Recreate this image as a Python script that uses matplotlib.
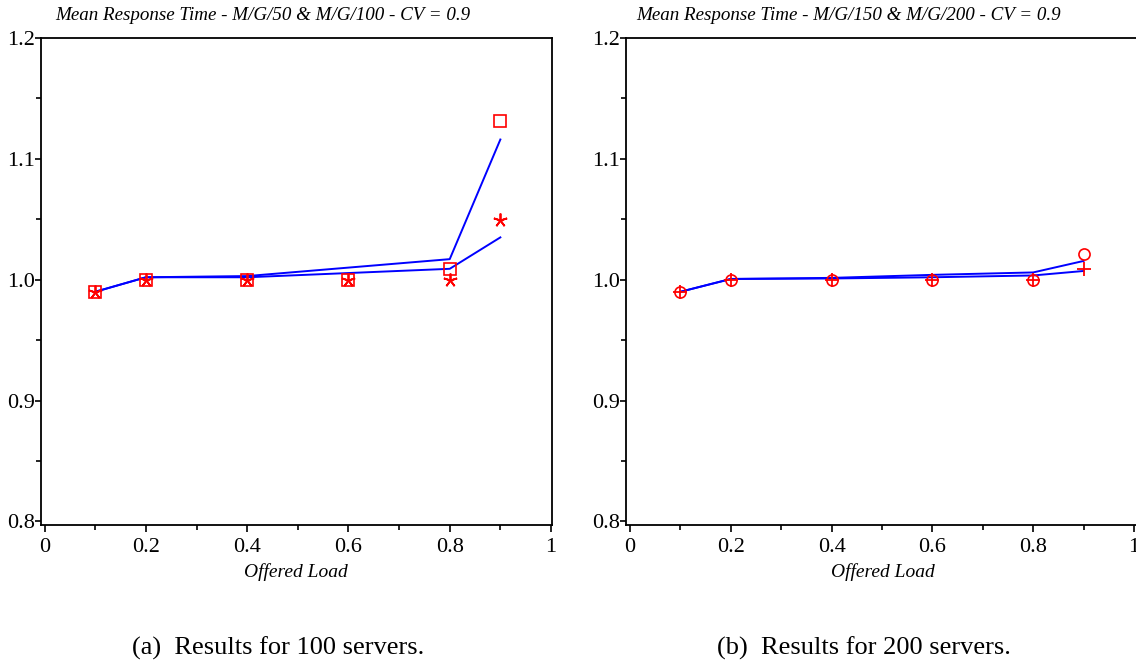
import matplotlib.pyplot as plt
from matplotlib.ticker import MultipleLocator, FixedFormatter, FixedLocator

plt.rcParams['font.family'] = ['Liberation Serif', 'DejaVu Serif']

# offered load points
load = [0.1, 0.2, 0.4, 0.6, 0.8, 0.9]

# M/G/50 & M/G/100
sim_50 = [0.99, 1.0, 1.0, 1.0, 1.0, 1.049]
sim_100 = [0.99, 1.0, 1.0, 1.0, 1.009, 1.131]
mod_100 = [0.99, 1.002, 1.003, 1.010, 1.017, 1.116]
mod_50 = [0.99, 1.002, 1.002, 1.0055, 1.009, 1.035]

# M/G/150 & M/G/200
sim_150 = [0.99, 1.0, 1.0, 1.0, 1.0, 1.009]
sim_200 = [0.99, 1.0, 1.0, 1.0, 1.0, 1.021]
mod_200 = [0.99, 1.0006, 1.0015, 1.004, 1.006, 1.0155]
mod_150 = [0.99, 1.0006, 1.001, 1.002, 1.0035, 1.0072]

xticks = [0, 0.2, 0.4, 0.6, 0.8, 1]
xticklabels = ['0', '0.2', '0.4', '0.6', '0.8', '1']
yticks = [0.8, 0.9, 1.0, 1.1, 1.2]
yticklabels = ['0.8', '0.9', '1.0', '1.1', '1.2']

W, H = 1136, 665
fig = plt.figure(figsize=(W / 100, H / 100), dpi=100)


def make_axes(x0, x1, xmax):
    ax = fig.add_axes([x0 / W, (H - 525) / H, (x1 - x0) / W, (525 - 38) / H])
    ax.set_xlim(-0.008, xmax)
    ax.set_ylim(0.797, 1.2)
    ax.xaxis.set_major_locator(FixedLocator(xticks))
    ax.xaxis.set_major_formatter(FixedFormatter(xticklabels))
    ax.xaxis.set_minor_locator(MultipleLocator(0.1))
    ax.yaxis.set_major_locator(FixedLocator(yticks))
    ax.yaxis.set_major_formatter(FixedFormatter(yticklabels))
    ax.yaxis.set_minor_locator(MultipleLocator(0.05))
    ax.tick_params(which='major', direction='out', length=5, width=1.2,
                   labelsize=16)
    ax.tick_params(which='minor', direction='out', length=3.5, width=1.2)
    ax.tick_params(axis='x', which='major', pad=4)
    ax.tick_params(axis='y', which='major', length=4, pad=0)
    for s in ax.spines.values():
        s.set_linewidth(1.3)
    ax.set_xlabel('Offered Load', fontsize=14, style='italic', labelpad=5)
    return ax


ax1 = make_axes(40.6, 552, 1.002)
ax1.plot(load, mod_100, color='#0000ff', lw=1.4)
ax1.plot(load, mod_50, color='#0000ff', lw=1.4)
ax1.plot(load, sim_100, ls='none', marker='s', ms=8, mfc='none', mec='#ff0000', mew=1.2)
ax1.plot(load, sim_50, ls='none', marker=(5, 2, 0), ms=10, mec='#ff0000', mew=1.3)

ax2 = make_axes(626, 1140, 1.012)
ax2.plot(load, mod_200, color='#0000ff', lw=1.4)
ax2.plot(load, mod_150, color='#0000ff', lw=1.4)
ax2.plot(load, sim_200, ls='none', marker='o', ms=8, mfc='none', mec='#ff0000', mew=1.2)
ax2.plot(load, sim_150, ls='none', marker='+', ms=10, mec='#ff0000', mew=1.3)

fig.text(55 / W, 1 - 16 / H, 'Mean Response Time - M/G/50 & M/G/100 - CV = 0.9',
         fontsize=13.7, style='italic', va='center', ha='left')
fig.text(636 / W, 1 - 16 / H, 'Mean Response Time - M/G/150 & M/G/200 - CV = 0.9',
         fontsize=13.7, style='italic', va='center', ha='left')

fig.text(278 / W, 1 - 648 / H, '(a)  Results for 100 servers.', fontsize=19,
         ha='center', va='center')
fig.text(864 / W, 1 - 648 / H, '(b)  Results for 200 servers.', fontsize=19,
         ha='center', va='center')

fig.savefig('out.png', dpi=100)
